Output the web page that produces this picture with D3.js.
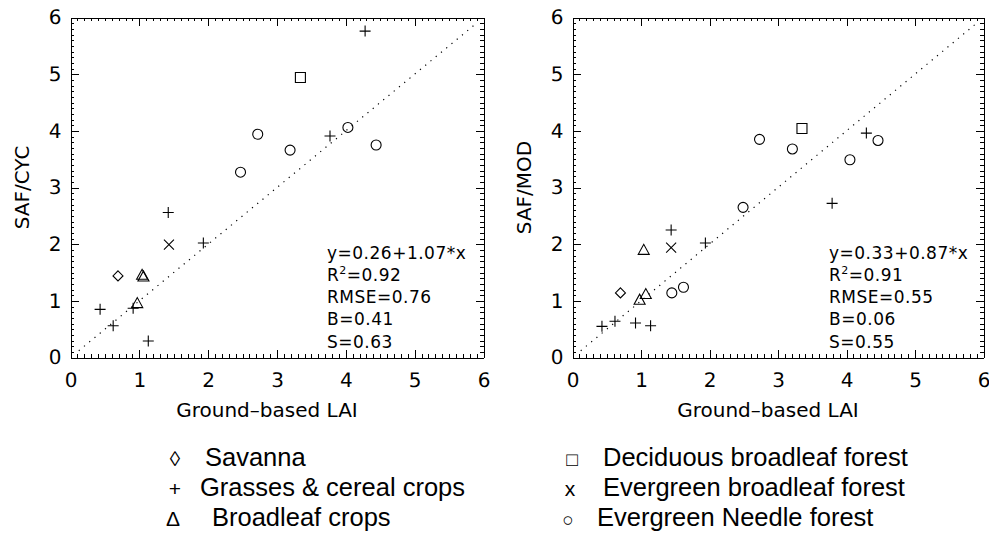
<!DOCTYPE html>
<html>
<head>
<meta charset="utf-8">
<script src="https://cdn.jsdelivr.net/npm/d3@7"></script>
<style>
  html, body { margin: 0; padding: 0; background: #fff; }
  svg { display: block; }
  .tick text, .axtitle, .stat { font-family: "DejaVu Sans", sans-serif; fill: #000; }
  .legend text { font-family: "Liberation Sans", Arial, sans-serif; fill: #000; }
</style>
</head>
<body>
<svg id="chart" width="989" height="535"></svg>
<script>
// ---------- data ----------
const tickValues = [0, 1, 2, 3, 4, 5, 6];
const xTitle = "Ground\u2013based LAI";

// Left panel: SAF/CYC vs ground-based LAI
const cycX    = [4.28, 3.77, 1.42, 1.93, 0.91, 0.43, 0.62, 1.13, 3.34, 2.72, 3.19, 4.03, 4.44, 2.47, 1.43, 0.69, 1.04, 1.06, 0.97];
const cycY    = [5.76, 3.91, 2.56, 2.02, 0.87, 0.85, 0.56, 0.29, 4.94, 3.94, 3.66, 4.06, 3.75, 3.27, 1.99, 1.44, 1.46, 1.43, 0.96];
const cycType = ["grass","grass","grass","grass","grass","grass","grass","grass","deciduous","needle","needle","needle","needle","needle","evergreen","savanna","crop","crop","crop"];
const cycStats = ["y=0.26+1.07*x", "0.92", "RMSE=0.76", "B=0.41", "S=0.63"];

// Right panel: SAF/MOD vs ground-based LAI
const modX    = [4.29, 3.79, 1.44, 1.94, 0.43, 0.62, 0.92, 1.14, 3.35, 2.73, 3.21, 4.46, 4.05, 2.49, 1.45, 1.62, 1.44, 0.70, 1.04, 1.07, 0.98];
const modY    = [3.96, 2.72, 2.25, 2.02, 0.55, 0.64, 0.61, 0.56, 4.04, 3.85, 3.68, 3.83, 3.49, 2.65, 1.14, 1.24, 1.94, 1.14, 1.90, 1.12, 1.02];
const modType = ["grass","grass","grass","grass","grass","grass","grass","grass","deciduous","needle","needle","needle","needle","needle","needle","needle","evergreen","savanna","crop","crop","crop"];
const modStats = ["y=0.33+0.87*x", "0.91", "RMSE=0.55", "B=0.06", "S=0.55"];

// 1:1 reference line extent
const oneToOne = [0.12, 5.87];

// Legend
const legendSymbols = ["\u25CA", "+", "\u0394", "\u25A1", "x", "\u25CB"];
const legendLabels  = ["Savanna", "Grasses & cereal crops", "Broadleaf crops",
                       "Deciduous broadleaf forest", "Evergreen broadleaf forest", "Evergreen Needle forest"];

// ---------- drawing ----------
const svg = d3.select("#chart");

const symbolPath = {
  grass:     "M-5.5,0H5.5M0,-5.5V5.5",
  evergreen: "M-5,-5L5,5M-5,5L5,-5",
  deciduous: "M-5,-5H5V5H-5Z",
  needle:    null,
  savanna:   "M0,-5L5,0L0,5L-5,0Z",
  crop:      "M-5.5,4.5L5.5,4.5L0,-5.5Z"
};

function panel(cfg) {
  const x = d3.scaleLinear().domain([0, 6]).range([cfg.x0, cfg.x1]);
  const y = d3.scaleLinear().domain([0, 6]).range([357.5, 17.5]);
  const g = svg.append("g");
  const minor = d3.range(0, 60.5, 1).map(d => d / 10);

  // minor ticks
  const mk = (axis, tr) => g.append("g").attr("transform", tr)
      .call(axis).call(s => { s.select(".domain").remove(); s.selectAll("text").remove(); })
      .attr("shape-rendering", "crispEdges");
  mk(d3.axisBottom(x).tickValues(minor).tickSize(-3.5).tickFormat(""), `translate(0,${y(0)})`);
  mk(d3.axisTop(x).tickValues(minor).tickSize(-3.5).tickFormat(""), `translate(0,${y(6)})`);
  mk(d3.axisLeft(y).tickValues(minor).tickSize(-3.5).tickFormat(""), `translate(${x(0)},0)`);
  mk(d3.axisRight(y).tickValues(minor).tickSize(-3.5).tickFormat(""), `translate(${x(6)},0)`);

  // major ticks + labels
  const fmt = d3.format("d");
  g.append("g").attr("transform", `translate(0,${y(0)})`)
    .call(d3.axisBottom(x).tickValues(tickValues).tickSize(-8).tickSizeOuter(0).tickPadding(15).tickFormat(fmt))
    .attr("font-size", 20).attr("font-family", null).attr("shape-rendering", "crispEdges");
  g.append("g").attr("transform", `translate(0,${y(6)})`)
    .call(d3.axisTop(x).tickValues(tickValues).tickSize(-8).tickSizeOuter(0).tickFormat(""))
    .attr("shape-rendering", "crispEdges");
  g.append("g").attr("transform", `translate(${x(0)},0)`)
    .call(d3.axisLeft(y).tickValues(tickValues).tickSize(-8).tickSizeOuter(0).tickPadding(9).tickFormat(fmt))
    .attr("font-size", 20).attr("font-family", null).attr("shape-rendering", "crispEdges");
  g.append("g").attr("transform", `translate(${x(6)},0)`)
    .call(d3.axisRight(y).tickValues(tickValues).tickSize(-8).tickSizeOuter(0).tickFormat(""))
    .attr("shape-rendering", "crispEdges");
  g.selectAll(".tick text").style("text-rendering", "geometricPrecision");

  // 1:1 dotted line
  g.append("line")
    .attr("x1", x(oneToOne[0])).attr("y1", y(oneToOne[0]))
    .attr("x2", x(oneToOne[1])).attr("y2", y(oneToOne[1]))
    .attr("stroke", "#000").attr("stroke-width", 1.2).attr("stroke-dasharray", "1.2,5.6");

  // points
  const pts = cfg.xs.map((v, i) => ({ x: v, y: cfg.ys[i], t: cfg.types[i] }));
  const pg = g.append("g").attr("fill", "none").attr("stroke", "#000").attr("stroke-width", 1.1);
  pts.forEach(p => {
    if (p.t === "needle") {
      pg.append("circle").attr("cx", x(p.x)).attr("cy", y(p.y)).attr("r", 5);
    } else {
      pg.append("path").attr("d", symbolPath[p.t])
        .attr("transform", `translate(${x(p.x)},${y(p.y)})`);
    }
  });

  // axis titles
  g.append("text").attr("class", "axtitle")
    .attr("x", (cfg.x0 + cfg.x1) / 2 - 10).attr("y", 417)
    .attr("text-anchor", "middle").attr("font-size", 20).text(xTitle);
  g.append("text").attr("class", "axtitle")
    .attr("transform", `translate(${cfg.x0 - 42},${(17.5 + 357.5) / 2}) rotate(-90)`)
    .attr("text-anchor", "middle").attr("font-size", 20).text(cfg.yTitle);

  // statistics
  const st = g.append("g").attr("class", "stat").attr("font-size", 17).attr("letter-spacing", 0.5);
  const base = 258.5, step = 22.3;
  st.append("text").attr("x", cfg.statX).attr("y", base).text(cfg.stats[0]);
  const r2 = st.append("text").attr("x", cfg.statX).attr("y", base + step);
  r2.append("tspan").text("R");
  r2.append("tspan").attr("font-size", 11).attr("dy", -7).text("2");
  r2.append("tspan").attr("dy", 7).text("=" + cfg.stats[1]);
  for (let i = 2; i < 5; i++) {
    st.append("text").attr("x", cfg.statX).attr("y", base + step * i).text(cfg.stats[i]);
  }
}

panel({ x0: 70.5, x1: 483.5, xs: cycX, ys: cycY, types: cycType, stats: cycStats, statX: 327, yTitle: "SAF/CYC" });
panel({ x0: 572.5, x1: 983.5, xs: modX, ys: modY, types: modType, stats: modStats, statX: 829, yTitle: "SAF/MOD" });

// legend
const leg = svg.append("g").attr("class", "legend").attr("font-size", 25.5);
const legSymX = [175, 175, 173, 572, 570, 568];
const legTextX = [205, 200, 212, 603, 603, 597];
const legY = [466, 496, 526, 466, 496, 526];
legendLabels.forEach((lab, i) => {
  leg.append("text").attr("x", legSymX[i]).attr("y", legY[i]).attr("text-anchor", "middle")
    .attr("font-size", i === 3 || i === 5 ? 19 : 21).text(legendSymbols[i]);
  leg.append("text").attr("x", legTextX[i]).attr("y", legY[i]).text(lab);
});
</script>
</body>
</html>
